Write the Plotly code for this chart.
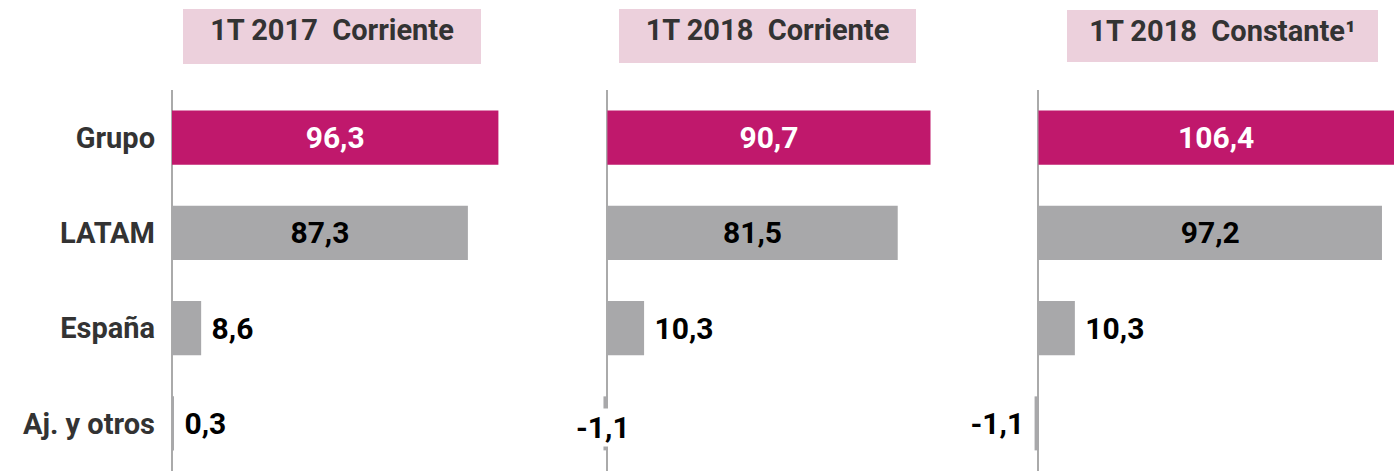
import plotly.graph_objects as go

categories = ["Grupo", "LATAM", "España", "Aj. y otros"]
panel_titles = ["1T 2017\u00a0 Corriente", "1T 2018\u00a0 Corriente", "1T 2018\u00a0 Constante\u00b9"]
values_2017_cor = [96.3, 87.3, 8.6, 0.3]
values_2018_cor = [90.7, 81.5, 10.3, -1.1]
values_2018_const = [106.4, 97.2, 10.3, -1.1]

MAGENTA = "#c0186c"
GRAY = "#a8a8aa"
PINK = "#ecd0dc"
W, H = 1394, 471
TOP = 90
VAL_SIZE = 30

bar_colors = [MAGENTA, GRAY, GRAY, GRAY]
val_font_colors = ["white", "black", "black", "black"]


def fmt(v):
    return f"{v:.1f}".replace(".", ",")


series = [values_2017_cor, values_2018_cor, values_2018_const]
# x-axis domains (pixels) and ranges per panel
domains_px = [(170, 555), (560, 990), (995, 1394)]
ranges = [[-0.59, 113.0], [-13.3, 107.4], [-12.3, 100.6]]

fig = go.Figure()
annotations = []

for i, vals in enumerate(series):
    sfx = "" if i == 0 else str(i + 1)
    texts = []
    positions = []
    for j, v in enumerate(vals):
        if j < 2:
            if v > ranges[i][1]:
                # bar runs past the panel edge: label centred on visible part
                texts.append(fmt(v))
                positions.append("none")
                annotations.append(dict(
                    x=ranges[i][1] / 2, y=categories[j], xref="x" + sfx, yref="y" + sfx,
                    text=fmt(v), showarrow=False, xanchor="center",
                    font=dict(family="Roboto", size=VAL_SIZE, color=val_font_colors[j], weight="bold"),
                ))
            else:
                texts.append(fmt(v))
                positions.append("inside")
        elif v >= 0:
            texts.append("\u00a0" + fmt(v))
            positions.append("outside")
        else:
            if i == 1:
                texts.append(fmt(v))
                positions.append("none")
                annotations.append(dict(
                    x=v, y=categories[j], xref="x2", yref="y2",
                    text=fmt(v), showarrow=False, xanchor="center",
                    yshift=-4, bgcolor="white",
                    font=dict(family="Roboto", size=VAL_SIZE, color="black", weight="bold"),
                ))
            else:
                texts.append(fmt(v) + "\u00a0")
                positions.append("outside")
    fig.add_trace(go.Bar(
        x=vals, y=categories, orientation="h",
        marker=dict(color=bar_colors, line=dict(width=0)),
        text=texts, textposition=positions,
        insidetextanchor="middle",
        textfont=dict(family="Roboto", size=VAL_SIZE, color=val_font_colors, weight="bold"),
        constraintext="none", cliponaxis=False,
        xaxis="x" + sfx, yaxis="y" + sfx,
        showlegend=False, hoverinfo="skip",
    ))

layout = dict(
    width=W, height=H,
    margin=dict(l=0, r=0, t=TOP, b=0, pad=0),
    paper_bgcolor="white", plot_bgcolor="white",
    bargap=0.433,
    showlegend=False,
)

for i in range(3):
    sfx = "" if i == 0 else str(i + 1)
    d0, d1 = domains_px[i]
    layout["xaxis" + sfx] = dict(
        domain=[d0 / W, d1 / W], range=ranges[i],
        showgrid=False, showline=False, showticklabels=False, ticks="",
        zeroline=True, zerolinecolor="#aaaaaa", zerolinewidth=2,
        anchor="y" + sfx, fixedrange=True,
    )
    layout["yaxis" + sfx] = dict(
        domain=[0, 1], anchor="x" + sfx,
        categoryorder="array", categoryarray=categories,
        autorange="reversed",
        showgrid=False, showline=False, zeroline=False, ticks="",
        showticklabels=(i == 0), ticklabelstandoff=14,
        tickfont=dict(family="Roboto", size=29, color="#333333", weight="bold"),
        fixedrange=True,
    )

# header boxes (pixel geometry -> paper coords)
boxes = [(183, 481, 9, 55), (619, 916, 9, 54), (1067, 1378, 10, 52)]
plot_h = H - TOP
PAD = 4
for (x0, x1, ytop, bh), title in zip(boxes, panel_titles):
    annotations.append(dict(
        x=(x0 + x1) / 2 / W, y=1 + (TOP - ytop) / plot_h,
        xref="paper", yref="paper", xanchor="center", yanchor="top",
        text=title, showarrow=False,
        width=x1 - x0 - 2 * PAD, height=bh - 2 * PAD, valign="top", align="center",
        bgcolor=PINK, borderpad=PAD, borderwidth=0,
        font=dict(family="Roboto", size=29, color="#333333", weight="bold"),
    ))

layout["annotations"] = annotations
fig.update_layout(**layout)
fig.write_html("out.html", post_script="document.body.style.margin='0';",
               config={"displayModeBar": False})
